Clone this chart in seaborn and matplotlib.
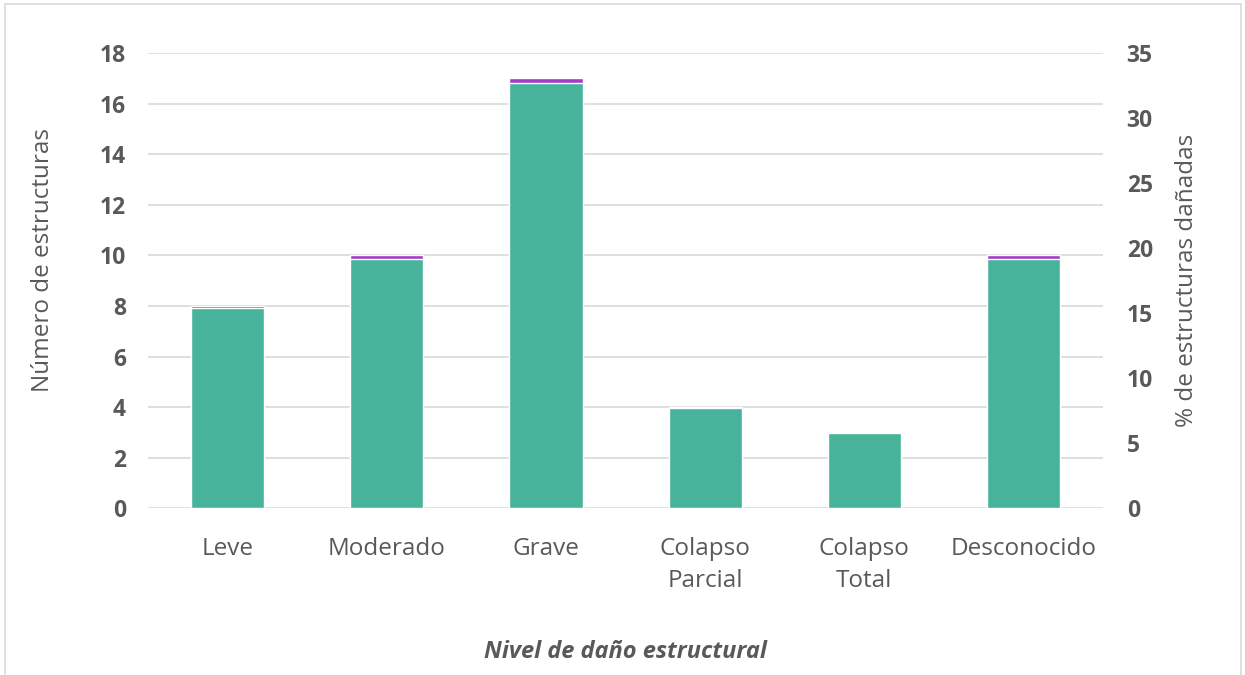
import matplotlib
matplotlib.use("Agg")
import matplotlib.pyplot as plt
import seaborn as sns
import pandas as pd
from matplotlib.patches import Rectangle

sns.set_theme(style="white")
plt.rcParams['font.family'] = ['Open Sans', 'DejaVu Sans']

categorias = ["Leve", "Moderado", "Grave", "Colapso\nParcial", "Colapso\nTotal", "Desconocido"]
numero = [8, 10, 17, 4, 3, 10]
porcentaje = [15.4, 19.2, 32.7, 7.7, 5.8, 19.2]

df = pd.DataFrame({"Nivel": categorias, "Numero": numero, "Porcentaje": porcentaje})

gris = "#595959"
fig = plt.figure(figsize=(12.45, 6.75), dpi=100)
fig.patches.append(Rectangle((0.004, -0.01), 0.993, 1.004, transform=fig.transFigure,
                             fill=False, edgecolor="#D9D9D9", linewidth=1.2))
ax = fig.add_axes([0.119, 0.247, 0.767, 0.6745])
ax2 = ax.twinx()

sns.barplot(data=df, x="Nivel", y="Numero", color="#A63CC6", width=0.46,
            saturation=1, ax=ax, zorder=2)
sns.barplot(data=df, x="Nivel", y="Porcentaje", color="#46B39A", width=0.46,
            saturation=1, ax=ax2, zorder=3)

ax.set_ylim(0, 18)
ax.set_yticks(range(0, 19, 2))
ax2.set_ylim(0, 35)
ax2.set_yticks(range(0, 36, 5))
ax.yaxis.grid(True, color="#D9D9D9", linewidth=1.2, zorder=0)
ax.set_axisbelow(True)

for a in (ax, ax2):
    for s in a.spines.values():
        s.set_visible(False)
    a.tick_params(length=0)

ax.tick_params(axis="y", pad=16, labelsize=16.5, labelcolor=gris)
ax2.tick_params(axis="y", pad=17, labelsize=16.5, labelcolor=gris)
for lbl in ax.get_yticklabels() + ax2.get_yticklabels():
    lbl.set_fontweight("bold")
ax.tick_params(axis="x", pad=21, labelsize=17.5, labelcolor=gris)
ax2.set_xticks([])
ax.set_xticks(range(len(categorias)))
ax.set_xticklabels(categorias, linespacing=1.4)

ax.set_ylabel("Número de estructuras", fontsize=17.5, color=gris)
ax.yaxis.set_label_coords(-0.098, 0.545)
ax2.set_ylabel("% de estructuras dañadas", fontsize=17.5, color=gris, labelpad=16)
ax2.yaxis.label.set_rotation(90)
ax.set_xlabel("Nivel de daño estructural", fontsize=17, color=gris,
              fontweight="bold", fontstyle="italic", labelpad=34)
ax2.set_xlabel("")

fig.savefig("out.png", dpi=100)
